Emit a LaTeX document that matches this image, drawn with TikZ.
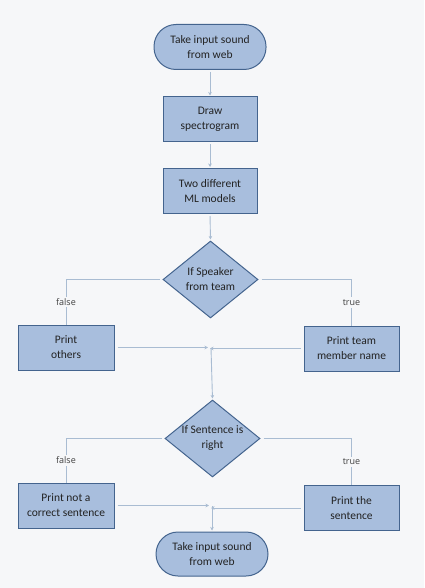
\documentclass[tikz,border=0pt]{standalone}
\usepackage{fontspec}
\setmainfont{Carlito}
\newfontfamily\lblfont{Open Sans}
\usetikzlibrary{shapes.geometric,arrows.meta}
\definecolor{bg}{HTML}{F6F7F9}
\definecolor{boxfill}{HTML}{A8BEDD}
\definecolor{boxdraw}{HTML}{44648E}
\definecolor{conn}{HTML}{A9BCD2}
\definecolor{txt}{HTML}{222222}
\definecolor{lbltxt}{HTML}{404040}
\begin{document}
\begin{tikzpicture}[x=1pt,y=-1pt,
  box/.style={rectangle,draw=boxdraw,fill=boxfill,line width=1pt,minimum width=94pt,minimum height=45pt,align=center,font=\fontsize{11.5}{15}\selectfont,text=txt,inner sep=0pt},
  term/.style={box,rounded corners=22pt,minimum width=112pt,minimum height=45pt},
  dec/.style={box,diamond,aspect=1.23,minimum width=95pt,minimum height=77pt},
  conn/.style={draw=conn,line width=0.9pt},
  arr/.style={conn,-{Stealth[length=3.5pt,width=3.5pt]}},
  lbl/.style={fill=bg,font=\lblfont\fontsize{9}{11}\selectfont,text=lbltxt,inner sep=2pt}]
\useasboundingbox[fill=bg] (0,0) rectangle (424,588);

\node[term] (t1) at (210,47) {Take input sound\\from web};
\node[box] (draw) at (210,119.5) {Draw\\spectrogram};
\node[box] (ml) at (210,191) {Two different\\ML models};
\node[dec] (d1) at (210.5,279.5) {If Speaker\\from team};
\node[box,minimum width=96pt] (others) at (66,347.5) {Print\\others};
\node[box,minimum width=95pt] (member) at (351.5,348.5) {Print team\\member name};
\coordinate (j1) at (211,348);
\node[dec] (d2) at (212.5,438.5) {If Sentence is\\right};
\node[box,minimum width=96pt] (notc) at (66,505.5) {Print not a\\correct sentence};
\node[box,minimum width=95pt] (sent) at (351.5,508) {Print the\\sentence};
\coordinate (j2) at (212,506);
\node[term,minimum height=44pt] (t2) at (212,554) {Take input sound\\from web};

\draw[arr,shorten <=2pt,shorten >=1pt] (t1.south) -- (draw.north);
\draw[arr,shorten <=2pt,shorten >=1pt] (draw.south) -- (ml.north);
\draw[arr,shorten <=2pt,shorten >=1pt] (ml.south) -- (d1.north);

\draw[conn,shorten <=3pt] (d1.west) -| node[pos=0.75,lbl]{false} (others.north);
\draw[conn,shorten <=3pt] (d1.east) -| node[pos=0.75,lbl]{true} (member.north);
\draw[arr,shorten <=3pt,shorten >=3pt] (others.east) -- (others.east -| j1);
\draw[arr,shorten <=3pt,shorten >=-1pt] (member.west) -- (member.west -| j1);
\draw[arr,shorten >=1pt] (j1) -- (d2.north);

\draw[conn,shorten <=3pt] (d2.west) -| node[pos=0.75,lbl]{false} (notc.north);
\draw[conn,shorten <=3pt] (d2.east) -| node[pos=0.75,lbl]{true} (sent.north);
\draw[arr,shorten <=3pt,shorten >=3pt] (notc.east) -- (notc.east -| j2);
\draw[arr,shorten <=3pt,shorten >=-1pt] (sent.west) -- (sent.west -| j2);
\draw[arr,shorten >=1pt] (j2) -- (t2.north);
\end{tikzpicture}
\end{document}
